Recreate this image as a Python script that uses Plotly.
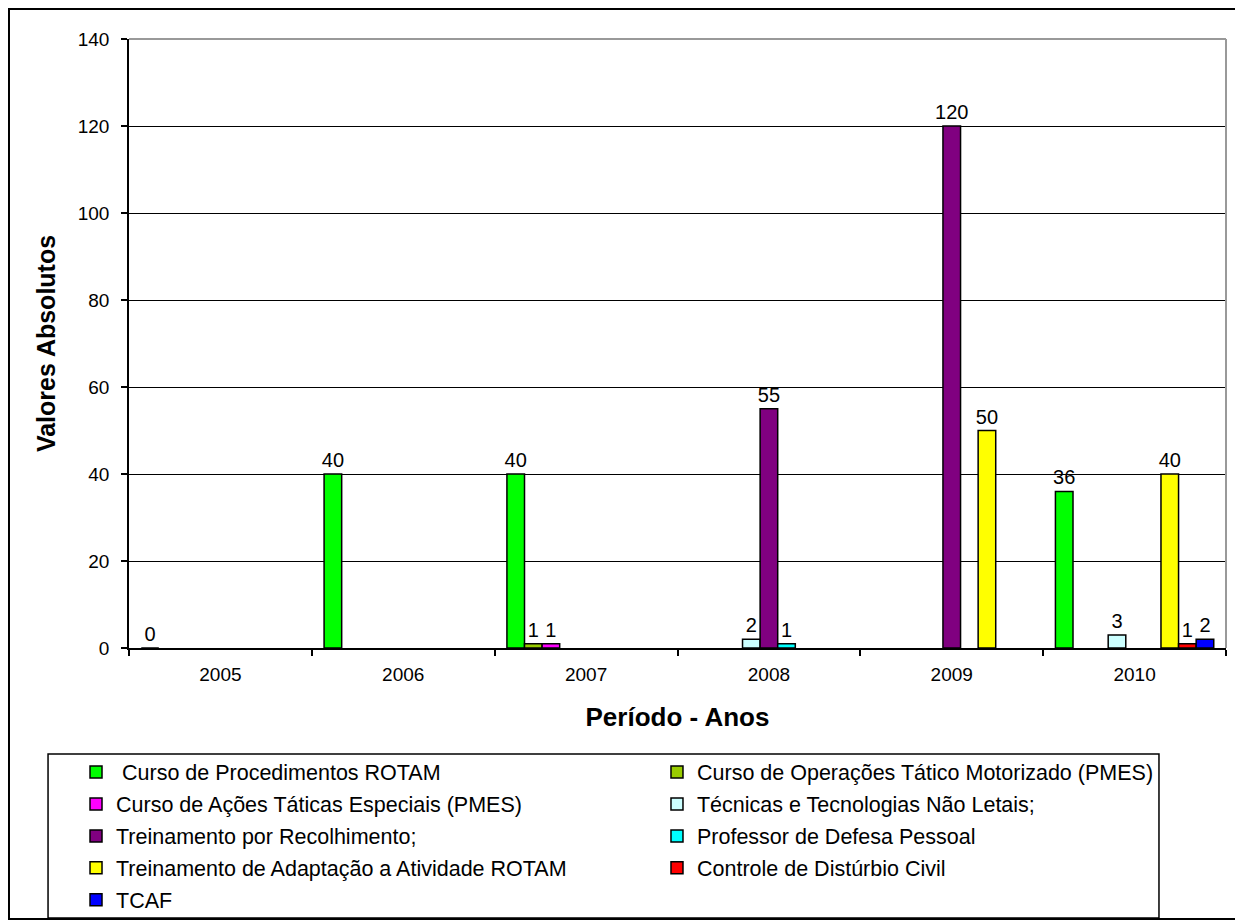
import plotly.graph_objects as go

anos = ['2005', '2006', '2007', '2008', '2009', '2010']

nomes = [
    '\u00a0Curso de Procedimentos ROTAM',
    'Curso de Operações Tático Motorizado (PMES)',
    'Curso de Ações Táticas Especiais (PMES)',
    'Técnicas e Tecnologias Não Letais;',
    'Treinamento por Recolhimento;',
    'Professor de Defesa Pessoal',
    'Treinamento de Adaptação a Atividade ROTAM',
    'Controle de Distúrbio Civil',
    'TCAF',
]
cores = ['#00FF00', '#99CC00', '#FF00FF', '#CCFFFF', '#800080',
         '#00FFFF', '#FFFF00', '#FF0000', '#0000FF']

proc_rotam = [0, 40, 40, None, None, 36]
oper_tatico = [None, None, 1, None, None, None]
acoes_taticas = [None, None, 1, None, None, None]
nao_letais = [None, None, None, 2, None, 3]
recolhimento = [None, None, None, 55, 120, None]
defesa_pessoal = [None, None, None, 1, None, None]
adaptacao = [None, None, None, None, 50, 40]
disturbio_civil = [None, None, None, None, None, 1]
tcaf = [None, None, None, None, None, 2]

valores = [proc_rotam, oper_tatico, acoes_taticas, nao_letais, recolhimento,
           defesa_pessoal, adaptacao, disturbio_civil, tcaf]

fonte = 'Liberation Sans, Arial, sans-serif'

fig = go.Figure()
for i, (nome, cor, vals) in enumerate(zip(nomes, cores, valores)):
    fig.add_trace(go.Bar(
        x=anos,
        y=vals,
        name=nome,
        marker=dict(color=cor, line=dict(color='black', width=1.5)),
        texttemplate='%{y}',
        textposition='outside',
        textfont=dict(size=20, color='black'),
        constraintext='none',
        cliponaxis=False,
        legend='legend' if i % 2 == 0 else 'legend2',
        legendgroup=nome,
    ))

# gray plot-area border (top and right), legend box and outer frame
shapes = [
    dict(type='line', xref='paper', yref='paper', x0=0, x1=1, y0=1, y1=1,
         line=dict(color='#999999', width=2)),
    dict(type='line', xref='paper', yref='paper', x0=1, x1=1, y0=0, y1=1,
         line=dict(color='#999999', width=2)),
    dict(type='rect', xref='paper', yref='paper', x0=-0.0738, x1=0.9389,
         y0=-0.4433, y1=-0.1741, line=dict(color='black', width=1.5)),
    dict(type='rect', xref='paper', yref='paper', x0=-0.1094, x1=1.0119,
         y0=-0.4450, y1=1.0493, line=dict(color='black', width=2)),
]

legenda = dict(
    xanchor='left', yanchor='top', y=-0.170,
    bgcolor='rgba(0,0,0,0)', borderwidth=0,
    font=dict(family=fonte, size=21.5, color='black'),
    tracegroupgap=1, orientation='v',
)

fig.update_layout(
    width=1235, height=912,
    margin=dict(l=121, r=17, t=31, b=272, autoexpand=False),
    paper_bgcolor='white', plot_bgcolor='white',
    font=dict(family=fonte, color='black'),
    barmode='group', bargap=0.134, bargroupgap=0,
    shapes=shapes,
    legend=dict(legenda, x=-0.0483),
    legend2=dict(legenda, x=0.4813),
    xaxis=dict(
        type='category', tickson='boundaries', ticks='outside', ticklen=6,
        tickcolor='black', tickwidth=1.5, showline=True, linecolor='black',
        linewidth=1.5, showgrid=False, tickfont=dict(size=19),
        ticklabelstandoff=8,
        title=dict(text='Período - Anos', standoff=24,
                   font=dict(size=26, weight='bold')),
    ),
    yaxis=dict(
        range=[0, 140], dtick=20, ticks='outside', ticklen=6,
        tickcolor='black', tickwidth=1.5, showline=True, linecolor='black',
        linewidth=1.5, gridcolor='black', gridwidth=1, zeroline=False,
        tickfont=dict(size=19), ticklabelstandoff=8,
        title=dict(text='Valores Absolutos', standoff=15,
                   font=dict(size=25, weight='bold')),
    ),
)

fig.write_html('out.html')
